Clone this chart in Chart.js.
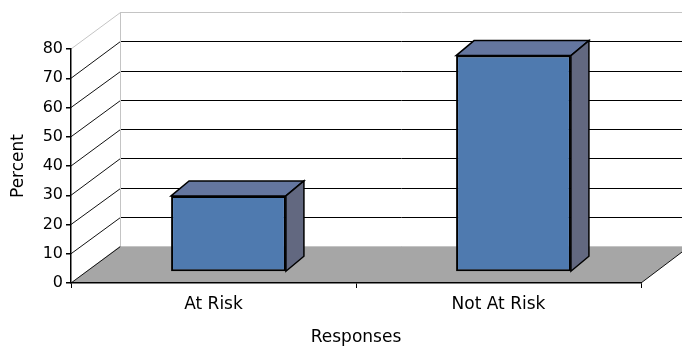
<!DOCTYPE html>
<html lang="en">
<head>
<meta charset="UTF-8">
<title>Responses</title>
<script src="https://cdn.jsdelivr.net/npm/chart.js"></script>
<style>
  html, body { margin: 0; padding: 0; background: #fff; }
  canvas { display: block; }
</style>
</head>
<body>
<canvas id="chart" width="682" height="349"></canvas>
<script>
const categories = ['At Risk', 'Not At Risk'];
const percents = [26, 74];
const yMax = 80;
const yStep = 10;

// fake 3D: how far the back wall sits behind the front axes,
// where the bars' front faces sit, and how deep the bars are
const wallDepth = { x: 49, y: -37 };
const barShift = { x: 15, y: -11 };
const barDepth = { x: 18, y: -15 };

const frontColor = '#4f7aaf';
const topColor = '#64769f';
const sideColor = '#626880';
const floorColor = '#a6a6a6';
const wallEdge = '#c4c4c4';

function px(v) { return Math.round(v) + 0.5; }

function line(ctx, x1, y1, x2, y2, color) {
  ctx.strokeStyle = color;
  ctx.beginPath();
  ctx.moveTo(x1, y1);
  ctx.lineTo(x2, y2);
  ctx.stroke();
}

function poly(ctx, pts, fill) {
  ctx.beginPath();
  ctx.moveTo(pts[0][0], pts[0][1]);
  for (let i = 1; i < pts.length; i++) ctx.lineTo(pts[i][0], pts[i][1]);
  ctx.closePath();
  ctx.fillStyle = fill;
  ctx.fill();
  ctx.stroke();
}

const walls = {
  id: 'walls',
  beforeDraw(chart) {
    const { ctx, chartArea: a, scales: { y } } = chart;
    const L = a.left, R = a.right, B = y.getPixelForValue(0);
    const wx = wallDepth.x, wy = wallDepth.y;
    const far = chart.width + 20;
    ctx.save();
    ctx.lineWidth = 1;

    // floor
    ctx.beginPath();
    ctx.moveTo(L, B);
    ctx.lineTo(R, B);
    ctx.lineTo(R + wx, B + wy);
    ctx.lineTo(L + wx, B + wy);
    ctx.closePath();
    ctx.fillStyle = floorColor;
    ctx.fill();
    line(ctx, L + wx, px(B + wy), far, px(B + wy), wallEdge);

    // back wall gridlines and the slanted lines on the side wall
    for (let v = 0; v <= yMax; v += yStep) {
      const yf = y.getPixelForValue(v);
      const yb = px(yf + wy);
      if (v === yMax) {
        line(ctx, L + wx, yb, far, yb, wallEdge);
        line(ctx, L, yf, L + wx + 0.5, yb, wallEdge);
      } else {
        if (v > 0) line(ctx, L + wx, yb, far, yb, '#000');
        line(ctx, L, yf, L + wx + 0.5, yb, '#111');
      }
    }
    // back wall left edge
    line(ctx, px(L + wx), px(y.getPixelForValue(yMax) + wy), px(L + wx), px(B + wy), wallEdge);
    // floor right edge
    line(ctx, R, B, R + wx, B + wy, '#111');
    ctx.restore();
  }
};

const boxes = {
  id: 'boxes',
  beforeDatasetsDraw(chart) {
    chart.ctx.save();
    chart.ctx.translate(barShift.x, barShift.y);
  },
  afterDatasetsDraw(chart) {
    const ctx = chart.ctx;
    ctx.restore();
    ctx.save();
    ctx.lineWidth = 1.5;
    ctx.strokeStyle = '#000';
    ctx.lineJoin = 'miter';
    const dx = barDepth.x, dy = barDepth.y;
    chart.getDatasetMeta(0).data.forEach(bar => {
      const { x, y, base, width } = bar.getProps(['x', 'y', 'base', 'width'], true);
      const x1 = x - width / 2 + barShift.x;
      const x2 = x + width / 2 + barShift.x;
      const yt = y + barShift.y;
      const yb = base + barShift.y;
      poly(ctx, [[x1, yt], [x1 + dx, yt + dy], [x2 + dx, yt + dy], [x2, yt]], topColor);
      poly(ctx, [[x2, yt], [x2 + dx, yt + dy], [x2 + dx, yb + dy], [x2, yb]], sideColor);
    });
    ctx.restore();
  }
};

new Chart(document.getElementById('chart'), {
  type: 'bar',
  data: {
    labels: categories,
    datasets: [{
      data: percents,
      backgroundColor: frontColor,
      borderColor: '#000',
      borderWidth: 2,
      borderSkipped: false,
      barPercentage: 0.403,
      categoryPercentage: 1
    }]
  },
  options: {
    responsive: false,
    animation: false,
    layout: { padding: { top: 49, right: 41, left: 0, bottom: 0 } },
    plugins: { legend: { display: false }, tooltip: { enabled: false } },
    scales: {
      x: {
        afterFit(scale) { scale.height = 66; },
        grid: { drawOnChartArea: false, drawTicks: true, tickLength: 5, color: '#000' },
        border: { display: true, color: '#000', width: 1.5 },
        ticks: { color: '#000', padding: 6, font: { family: 'DejaVu Sans', size: 17 } },
        title: {
          display: true, text: 'Responses', color: '#000',
          padding: { top: 0, bottom: 1 },
          font: { family: 'DejaVu Sans', size: 17 }
        }
      },
      y: {
        min: 0,
        max: yMax,
        afterFit(scale) { scale.width = 71; },
        grid: { drawOnChartArea: false, drawTicks: true, tickLength: 5, color: '#000', lineWidth: 1.5 },
        border: { display: true, color: '#000', width: 1.5 },
        ticks: { stepSize: yStep, color: '#000', padding: 3, font: { family: 'DejaVu Sans', size: 16 } },
        title: {
          display: true, text: 'Percent', color: '#000',
          padding: { top: 8, bottom: 0 },
          font: { family: 'DejaVu Sans', size: 17 }
        }
      }
    }
  },
  plugins: [walls, boxes]
});
</script>
</body>
</html>
